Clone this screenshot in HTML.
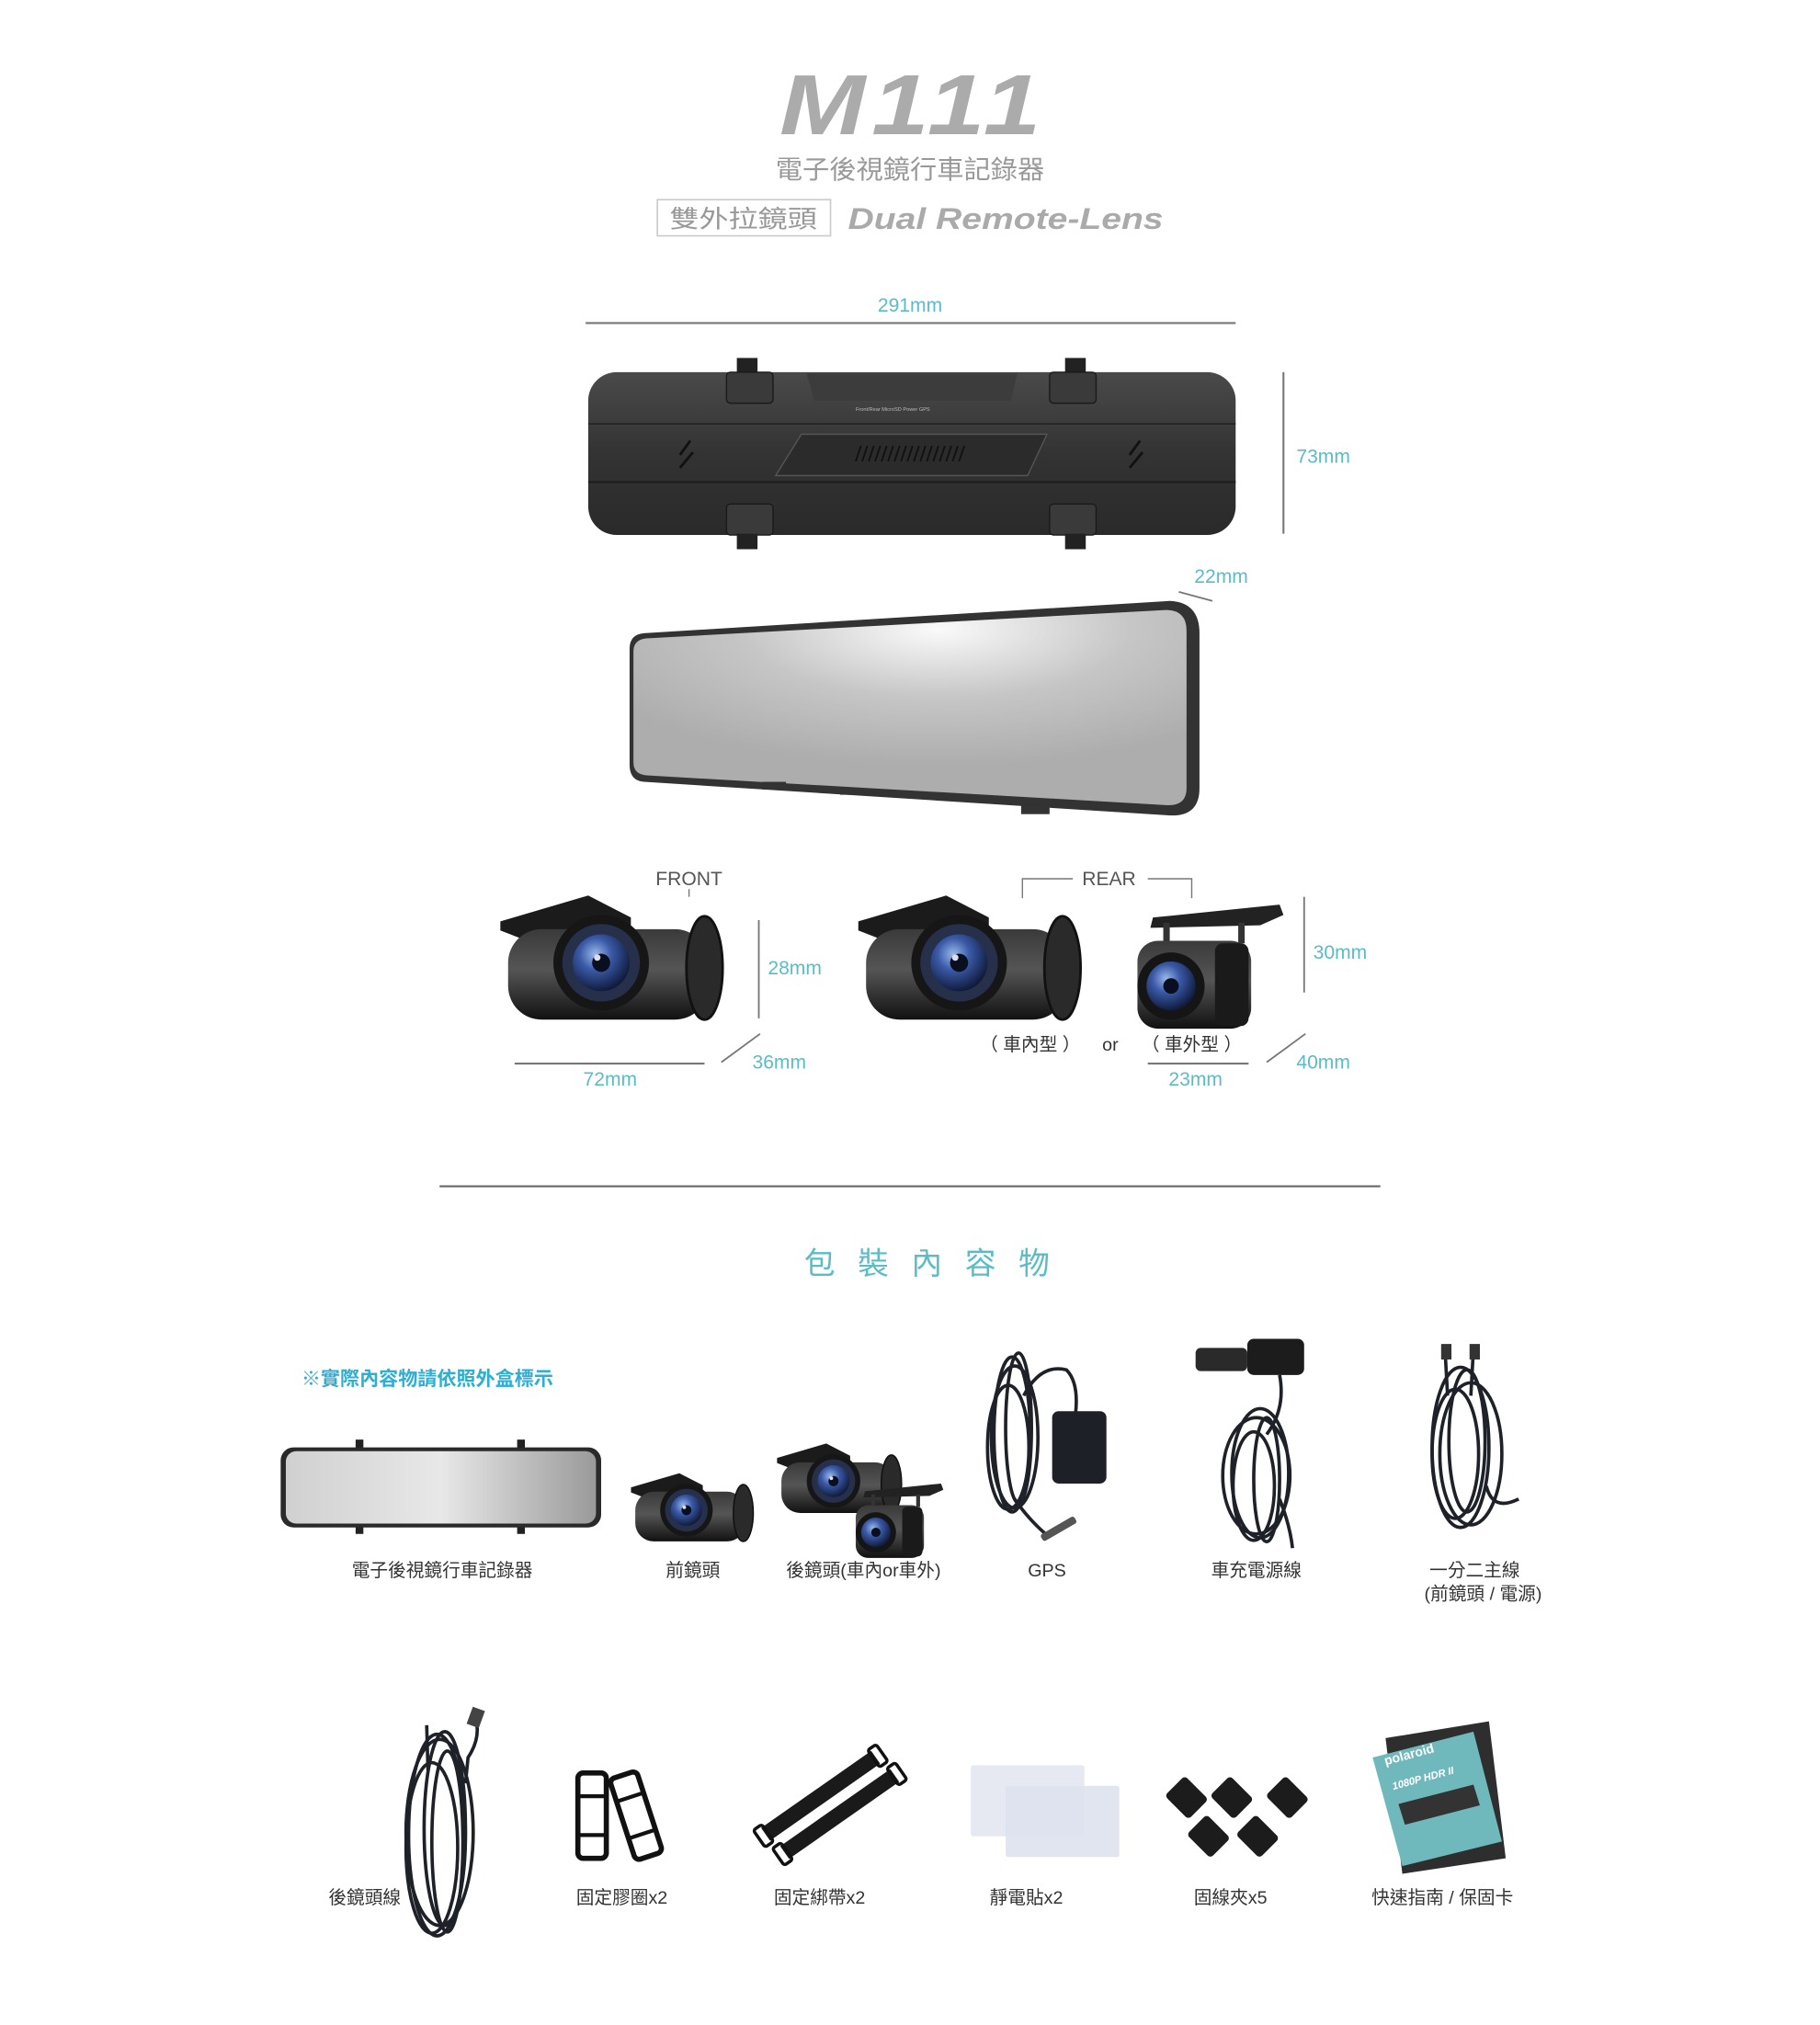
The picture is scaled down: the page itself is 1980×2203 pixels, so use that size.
<!DOCTYPE html>
<html><head><meta charset="utf-8">
<style>
html,body{margin:0;padding:0;background:#fff;}
svg{display:block;}
.dim{font-family:"Liberation Sans Narrow","Liberation Sans",sans-serif;fill:#5bbcc6;font-size:15px;}
.lab{font-family:"Liberation Sans","Noto Sans CJK TC",sans-serif;fill:#333;font-size:14px;}
.gl{font-family:"Liberation Sans","Noto Sans CJK TC",sans-serif;fill:#555;font-size:15px;}
</style></head><body>
<svg width="1980" height="2203" viewBox="0 0 1408 1567" xmlns="http://www.w3.org/2000/svg">
<defs>
 <linearGradient id="back" x1="0" y1="0" x2="0" y2="1"><stop offset="0" stop-color="#4a4a4a"/><stop offset="0.5" stop-color="#333"/><stop offset="1" stop-color="#2a2a2a"/></linearGradient>
 <radialGradient id="mir" cx="0.55" cy="0.1" r="0.7"><stop offset="0" stop-color="#fafafa"/><stop offset="0.5" stop-color="#c6c6c6"/><stop offset="1" stop-color="#adadad"/></radialGradient>
 <linearGradient id="mir2" x1="0" y1="0" x2="1" y2="0"><stop offset="0" stop-color="#d0d0d0"/><stop offset="0.5" stop-color="#e8e8e8"/><stop offset="1" stop-color="#9a9a9a"/></linearGradient>
 <linearGradient id="body" x1="0" y1="0" x2="0" y2="1"><stop offset="0" stop-color="#3a3a3a"/><stop offset="0.45" stop-color="#555"/><stop offset="1" stop-color="#111"/></linearGradient>
 <radialGradient id="lens" cx="0.4" cy="0.35" r="0.7"><stop offset="0" stop-color="#9bb8e8"/><stop offset="0.4" stop-color="#3a5aa8"/><stop offset="1" stop-color="#0c1430"/></radialGradient>
 <g id="cam">
  <polygon points="2,20 70,0 103,17 103,28 20,34 2,27" fill="#1b1b1b"/>
  <rect x="8" y="26" width="155" height="70" rx="26" fill="url(#body)"/>
  <ellipse cx="160" cy="56" rx="14" ry="40" fill="#2a2a2a" stroke="#111" stroke-width="2"/>
  <circle cx="80" cy="52" r="37" fill="#161616"/>
  <circle cx="80" cy="52" r="30" fill="#26304a"/>
  <circle cx="80" cy="52" r="22" fill="url(#lens)"/>
  <circle cx="80" cy="52" r="7" fill="#0a0f20"/>
  <circle cx="77" cy="48" r="2.5" fill="#dde"/>
 </g>
 <g id="camout">
  <polygon points="12,10 110,0 113,8 95,16 10,18" fill="#222"/>
  <rect x="20" y="14" width="5" height="16" fill="#333"/><rect x="78" y="14" width="5" height="16" fill="#333"/>
  <rect x="0" y="28" width="88" height="68" rx="16" fill="url(#body)"/>
  <rect x="60" y="30" width="26" height="64" rx="6" fill="#1a1a1a"/>
  <circle cx="26" cy="63" r="26" fill="#151515"/>
  <circle cx="26" cy="63" r="19" fill="url(#lens)"/>
  <circle cx="26" cy="63" r="6" fill="#0a0f20"/>
 </g>
</defs>

<!-- Header -->
<text x="603" y="104" textLength="207" lengthAdjust="spacingAndGlyphs" font-family="Liberation Sans,sans-serif" font-style="italic" font-weight="bold" font-size="66" fill="#ababab" letter-spacing="4">M111</text>
<text x="600" y="138" textLength="208" lengthAdjust="spacingAndGlyphs" font-family="Liberation Sans,'Noto Sans CJK TC',sans-serif" font-size="20" fill="#999">電子後視鏡行車記錄器</text>
<rect x="508.5" y="154.5" width="134" height="28" fill="none" stroke="#ccc" stroke-width="1.2"/>
<text x="518" y="176" textLength="114" lengthAdjust="spacingAndGlyphs" font-family="Liberation Sans,'Noto Sans CJK TC',sans-serif" font-size="19" fill="#999">雙外拉鏡頭</text>
<text x="656" y="177" textLength="244" lengthAdjust="spacingAndGlyphs" font-family="Liberation Sans,sans-serif" font-style="italic" font-weight="bold" font-size="23" fill="#aaa">Dual Remote-Lens</text>

<!-- 291mm -->
<text x="704" y="241" text-anchor="middle" class="dim">291mm</text>
<line x1="453" y1="250" x2="956" y2="250" stroke="#777" stroke-width="1.5"/>

<!-- mirror back -->
<rect x="455" y="288" width="501" height="126" rx="22" fill="url(#back)"/>
<polygon points="624,289 787,289 782,310 630,310" fill="#3c3c3c"/>
<line x1="455" y1="328" x2="956" y2="328" stroke="#222" stroke-width="1"/>
<line x1="455" y1="373" x2="956" y2="373" stroke="#1d1d1d" stroke-width="1.5"/>
<polygon points="620,336 810,336 795,368 600,368" fill="#2b2b2b" stroke="#555" stroke-width="1"/>
<g stroke="#111" stroke-width="1.3">
<line x1="662" y1="357" x2="666" y2="345"/><line x1="667" y1="357" x2="671" y2="345"/><line x1="672" y1="357" x2="676" y2="345"/><line x1="677" y1="357" x2="681" y2="345"/><line x1="682" y1="357" x2="686" y2="345"/><line x1="687" y1="357" x2="691" y2="345"/><line x1="692" y1="357" x2="696" y2="345"/><line x1="697" y1="357" x2="701" y2="345"/><line x1="702" y1="357" x2="706" y2="345"/><line x1="707" y1="357" x2="711" y2="345"/><line x1="712" y1="357" x2="716" y2="345"/><line x1="717" y1="357" x2="721" y2="345"/><line x1="722" y1="357" x2="726" y2="345"/><line x1="727" y1="357" x2="731" y2="345"/><line x1="732" y1="357" x2="736" y2="345"/><line x1="737" y1="357" x2="741" y2="345"/><line x1="742" y1="357" x2="746" y2="345"/>
</g>
<g stroke="#111" stroke-width="2"><line x1="526" y1="352" x2="534" y2="341"/><line x1="526" y1="362" x2="536" y2="350"/><line x1="874" y1="352" x2="882" y2="341"/><line x1="874" y1="362" x2="884" y2="350"/></g>
<text x="662" y="318" font-family="Liberation Sans,sans-serif" font-size="4" fill="#bbb">Front/Rear    MicroSD     Power               GPS</text>
<g fill="#222">
<rect x="570" y="277" width="16" height="12"/><rect x="562" y="288" width="36" height="24" rx="3" fill="#3a3a3a" stroke="#1a1a1a"/>
<rect x="824" y="277" width="16" height="12"/><rect x="812" y="288" width="36" height="24" rx="3" fill="#3a3a3a" stroke="#1a1a1a"/>
<rect x="562" y="390" width="36" height="24" rx="3" fill="#3a3a3a" stroke="#1a1a1a"/><rect x="570" y="413" width="16" height="12"/>
<rect x="812" y="390" width="36" height="24" rx="3" fill="#3a3a3a" stroke="#1a1a1a"/><rect x="824" y="413" width="16" height="12"/>
</g>
<!-- 73mm -->
<line x1="993" y1="288" x2="993" y2="413" stroke="#777" stroke-width="1.5"/>
<text x="1003" y="358" class="dim">73mm</text>

<!-- 22mm -->
<text x="924" y="451" class="dim">22mm</text>
<line x1="912" y1="458" x2="938" y2="465" stroke="#777" stroke-width="1.3"/>

<!-- mirror front -->
<path d="M498,490 L905,465 Q928,466 928,490 L928,610 Q928,632 905,631 L498,605 Q487,604 487,592 L487,502 Q487,491 498,490 Z" fill="#333"/>
<path d="M500,494 L902,472 Q918,472 918,488 L918,610 Q918,624 902,623 L500,600 Q490,599 490,590 L490,504 Q490,495 500,494 Z" fill="url(#mir)"/>
<rect x="590" y="605" width="18" height="6" fill="#333"/><rect x="790" y="623" width="22" height="7" fill="#333"/><rect x="650" y="612" width="20" height="3" fill="#333"/>

<!-- cameras section -->
<text x="533" y="685" text-anchor="middle" class="gl">FRONT</text>
<line x1="533" y1="688" x2="533" y2="694" stroke="#777" stroke-width="1"/>
<text x="858" y="685" text-anchor="middle" class="gl">REAR</text>
<polyline points="830,680 791,680 791,695" fill="none" stroke="#777" stroke-width="1"/>
<polyline points="888,680 922,680 922,695" fill="none" stroke="#777" stroke-width="1"/>

<use href="#cam" x="385" y="693"/>
<use href="#cam" x="662" y="693"/>
<use href="#camout" x="880" y="700"/>

<line x1="587" y1="712" x2="587" y2="788" stroke="#777" stroke-width="1.3"/>
<text x="594" y="754" class="dim">28mm</text>
<line x1="558" y1="822" x2="588" y2="800" stroke="#777" stroke-width="1.3"/>
<text x="582" y="827" class="dim">36mm</text>
<line x1="398" y1="823" x2="545" y2="823" stroke="#777" stroke-width="1.5"/>
<text x="472" y="840" text-anchor="middle" class="dim">72mm</text>

<text x="797" y="813" text-anchor="middle" class="lab" fill="#555">（ 車內型 ）</text>
<text x="859" y="813" text-anchor="middle" class="lab" fill="#555">or</text>
<text x="922" y="813" text-anchor="middle" class="lab" fill="#555">（ 車外型 ）</text>
<line x1="888" y1="823" x2="966" y2="823" stroke="#777" stroke-width="1.5"/>
<text x="925" y="840" text-anchor="middle" class="dim">23mm</text>
<line x1="1009" y1="694" x2="1009" y2="768" stroke="#777" stroke-width="1.3"/>
<text x="1016" y="742" class="dim">30mm</text>
<line x1="980" y1="822" x2="1010" y2="800" stroke="#777" stroke-width="1.3"/>
<text x="1003" y="827" class="dim">40mm</text>

<line x1="340" y1="918" x2="1068" y2="918" stroke="#666" stroke-width="1.5"/>

<text x="622" y="986" textLength="190" lengthAdjust="spacing" font-family="Liberation Sans,'Noto Sans CJK TC',sans-serif" font-size="24" fill="#5bbcc6">包裝內容物</text>

<text x="233" y="1072" font-family="Liberation Sans,'Noto Sans CJK TC',sans-serif" font-size="15" font-weight="bold" fill="#2eaed3">※實際內容物請依照外盒標示</text>

<!-- row 1 items -->
<rect x="275" y="1114" width="6" height="8" fill="#222"/><rect x="400" y="1114" width="6" height="8" fill="#222"/>
<rect x="275" y="1178" width="6" height="9" fill="#222"/><rect x="400" y="1178" width="6" height="9" fill="#222"/>
<rect x="217" y="1120" width="248" height="62" rx="10" fill="#2a2a2a"/>
<rect x="221" y="1123" width="240" height="56" rx="8" fill="url(#mir2)"/>

<g transform="translate(487,1140) scale(0.55)"><use href="#cam"/></g>
<g transform="translate(600,1117) scale(0.56)"><use href="#cam"/></g>
<g transform="translate(662,1148) scale(0.6)"><use href="#camout"/></g>

<!-- GPS -->
<g fill="none" stroke="#1e2228" stroke-width="2.6">
<ellipse cx="783" cy="1110" rx="14" ry="60"/><ellipse cx="788" cy="1105" rx="10" ry="58"/><ellipse cx="780" cy="1120" rx="16" ry="48"/><ellipse cx="785" cy="1112" rx="18" ry="55"/>
<path d="M792,1080 Q805,1055 825,1060 Q835,1070 832,1095"/>
<path d="M785,1160 Q795,1175 810,1188"/>
</g>
<rect x="814" y="1092" width="42" height="56" rx="5" fill="#1d2026"/>
<rect x="804" y="1180" width="30" height="6" rx="2" transform="rotate(-30 819 1183)" fill="#555"/>
<!-- car charger -->
<rect x="925" y="1043" width="40" height="18" rx="4" fill="#2a2a2a"/><rect x="965" y="1036" width="44" height="28" rx="5" fill="#1c1c1c"/>
<g fill="none" stroke="#1e2228" stroke-width="2.6">
<path d="M990,1064 Q995,1090 980,1110"/>
<ellipse cx="975" cy="1140" rx="22" ry="50"/><ellipse cx="970" cy="1150" rx="16" ry="42"/><ellipse cx="980" cy="1145" rx="10" ry="48"/><ellipse cx="972" cy="1142" rx="26" ry="45"/>
<path d="M990,1160 Q998,1180 1000,1198"/>
</g>
<!-- splitter -->
<g fill="none" stroke="#1e2228" stroke-width="2.6">
<path d="M1118,1044 L1120,1080"/><path d="M1140,1044 L1138,1080"/>
<ellipse cx="1130" cy="1120" rx="22" ry="62"/><ellipse cx="1135" cy="1115" rx="14" ry="55"/><ellipse cx="1126" cy="1125" rx="18" ry="50"/><ellipse cx="1138" cy="1125" rx="24" ry="55"/>
<path d="M1150,1150 Q1155,1170 1175,1160"/>
</g>
<rect x="1115" y="1040" width="8" height="12" fill="#333"/><rect x="1137" y="1040" width="8" height="12" fill="#333"/>

<text x="342" y="1220" text-anchor="middle" class="lab">電子後視鏡行車記錄器</text>
<text x="536" y="1220" text-anchor="middle" class="lab">前鏡頭</text>
<text x="668" y="1220" text-anchor="middle" class="lab">後鏡頭(車內or車外)</text>
<text x="810" y="1220" text-anchor="middle" class="lab">GPS</text>
<text x="972" y="1220" text-anchor="middle" class="lab">車充電源線</text>
<text x="1106" y="1220" class="lab">一分二主線</text>
<text x="1102" y="1238" class="lab">(前鏡頭 / 電源)</text>

<!-- row 2 -->
<g fill="none" stroke="#1e2228" stroke-width="2.6">
<path d="M330,1335 L331,1370"/><path d="M368,1330 Q372,1345 362,1360 L360,1380"/>
<ellipse cx="338" cy="1420" rx="22" ry="78"/><ellipse cx="344" cy="1415" rx="16" ry="75"/><ellipse cx="334" cy="1430" rx="20" ry="66"/><ellipse cx="346" cy="1425" rx="12" ry="70"/><ellipse cx="340" cy="1418" rx="26" ry="72"/>
</g>
<rect x="363" y="1322" width="10" height="14" fill="#444" transform="rotate(20 368 1329)"/>
<!-- rings -->
<rect x="447" y="1372" width="22" height="66" rx="4" fill="none" stroke="#111" stroke-width="4"/>
<line x1="447" y1="1390" x2="469" y2="1390" stroke="#111" stroke-width="3"/><line x1="447" y1="1420" x2="469" y2="1420" stroke="#111" stroke-width="3"/>
<g transform="rotate(-18 492 1405)"><rect x="481" y="1372" width="22" height="66" rx="4" fill="none" stroke="#111" stroke-width="4"/>
<line x1="481" y1="1390" x2="503" y2="1390" stroke="#111" stroke-width="3"/><line x1="481" y1="1420" x2="503" y2="1420" stroke="#111" stroke-width="3"/></g>
<!-- straps -->
<g transform="rotate(-35 640 1397)">
<rect x="588" y="1382" width="104" height="12" fill="#1a1a1a"/><rect x="582" y="1380" width="8" height="16" rx="2" fill="none" stroke="#111" stroke-width="2.5"/><rect x="690" y="1380" width="8" height="16" rx="2" fill="none" stroke="#111" stroke-width="2.5"/>
<rect x="592" y="1402" width="104" height="12" fill="#1a1a1a"/><rect x="586" y="1400" width="8" height="16" rx="2" fill="none" stroke="#111" stroke-width="2.5"/><rect x="694" y="1400" width="8" height="16" rx="2" fill="none" stroke="#111" stroke-width="2.5"/>
</g>
<!-- static -->
<rect x="751" y="1366" width="88" height="55" rx="2" fill="#e6e9f2"/>
<rect x="778" y="1382" width="88" height="55" rx="2" fill="#dde2ee" opacity="0.9"/>
<!-- clips -->
<g fill="#1c1c1c">
<rect x="905" y="1380" width="26" height="22" rx="3" transform="rotate(45 918 1391)"/>
<rect x="940" y="1380" width="26" height="22" rx="3" transform="rotate(45 953 1391)"/>
<rect x="983" y="1380" width="26" height="22" rx="3" transform="rotate(45 996 1391)"/>
<rect x="922" y="1410" width="26" height="22" rx="3" transform="rotate(45 935 1421)"/>
<rect x="960" y="1410" width="26" height="22" rx="3" transform="rotate(45 973 1421)"/>
</g>
<!-- guide -->
<polygon points="1072,1345 1152,1332 1165,1438 1085,1450" fill="#2e2e2e"/>
<polygon points="1062,1360 1140,1340 1162,1425 1085,1444" fill="#6fb9bd"/>
<text x="1072" y="1366" transform="rotate(-15 1072 1366)" font-family="Liberation Sans,sans-serif" font-weight="bold" font-size="10" fill="#fff">polaroid</text>
<text x="1078" y="1385" transform="rotate(-15 1078 1385)" font-family="Liberation Sans,sans-serif" font-weight="bold" font-style="italic" font-size="8" fill="#fff">1080P HDR II</text>
<polygon points="1082,1396 1140,1381 1145,1397 1087,1412" fill="#333"/>

<text x="282" y="1473" text-anchor="middle" class="lab">後鏡頭線</text>
<text x="481" y="1473" text-anchor="middle" class="lab">固定膠圈x2</text>
<text x="634" y="1473" text-anchor="middle" class="lab">固定綁帶x2</text>
<text x="794" y="1473" text-anchor="middle" class="lab">靜電貼x2</text>
<text x="952" y="1473" text-anchor="middle" class="lab">固線夾x5</text>
<text x="1116" y="1473" text-anchor="middle" class="lab">快速指南 / 保固卡</text>
</svg>
</body></html>
